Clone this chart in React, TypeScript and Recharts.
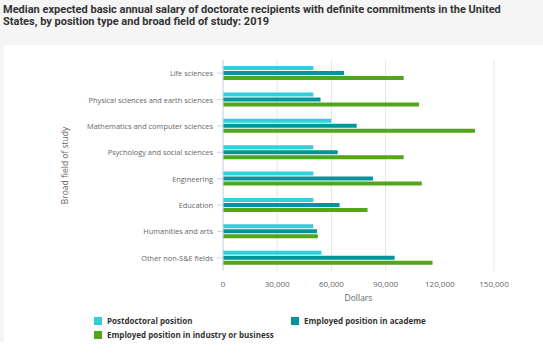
import React from 'react';
import { BarChart, Bar, XAxis, YAxis, CartesianGrid } from 'recharts';

const categories = [
  'Life sciences',
  'Physical sciences and earth sciences',
  'Mathematics and computer sciences',
  'Psychology and social sciences',
  'Engineering',
  'Education',
  'Humanities and arts',
  'Other non-S&E fields',
];
const postdoc = [50000, 50000, 60000, 50000, 50000, 50000, 50000, 54500];
const academe = [67000, 54000, 74000, 63500, 83000, 64500, 52000, 95000];
const industry = [100000, 108500, 139500, 100000, 110000, 80000, 52500, 116000];
const xTicks = [0, 30000, 60000, 90000, 120000, 150000];

const seriesNames = ['Postdoctoral position', 'Employed position in academe', 'Employed position in industry or business'];
const colors = ['#31cfdb', '#00969c', '#55a51c'];

const data = categories.map((c, i) => ({ name: c, postdoc: postdoc[i], academe: academe[i], industry: industry[i] }));

const fmt = (v: number) => v.toLocaleString('en-US');

const YTick = (props: any) => {
  const { x, y, payload } = props;
  return (
    <text x={x} y={y} dy={3} textAnchor="end" fontFamily='"Open Sans"' fontSize={7.4} fill="#666">
      {payload.value}
    </text>
  );
};

const LegendBlock = () => {
  const item = (i: number, left: number, top: number) => (
    <div key={i} style={{ position: 'absolute', left, top, display: 'flex', alignItems: 'center', whiteSpace: 'nowrap' }}>
      <div style={{ width: 8, height: 8, background: colors[i], marginRight: 5 }} />
      <span style={{ fontFamily: '"Open Sans"', fontWeight: 700, fontSize: 8, lineHeight: '10px', color: '#333' }}>{seriesNames[i]}</span>
    </div>
  );
  return (
    <div style={{ position: 'absolute', left: 0, top: 316, width: 543, height: 30 }}>
      {item(0, 94, 0)}
      {item(1, 291, 0)}
      {item(2, 94, 14)}
    </div>
  );
};

export default function App() {
  return (
    <div style={{ position: 'absolute', left: 0, top: 0, width: 543, height: 357, background: '#fff', overflow: 'hidden' }}>
      <div style={{ position: 'absolute', left: 0, top: 0, width: 543, height: 45, background: '#f5f5f5' }} />
      <div style={{ position: 'absolute', left: 0, top: 45, width: 4, height: 298, background: '#f5f5f5' }} />
      <div
        style={{
          position: 'absolute',
          left: 3,
          top: 4,
          width: 530,
          fontFamily: 'Roboto',
          fontWeight: 700,
          fontSize: 11,
          lineHeight: '12px',
          color: '#333',
        }}
      >
        Median expected basic annual salary of doctorate recipients with definite commitments in the United States, by position type and broad field of study: 2019
      </div>
      <div style={{ position: 'absolute', left: 0, top: 0 }}>
        <BarChart
          width={543}
          height={357}
          data={data}
          layout="vertical"
          margin={{ top: 60, right: 49, bottom: 46, left: 0 }}
          barSize={4}
          barGap={1}
        >
          <CartesianGrid horizontal={false} vertical={true} stroke="#e6e6e6" />
          <XAxis
            type="number"
            domain={[0, 150000]}
            ticks={xTicks}
            tickFormatter={fmt}
            axisLine={false}
            tickLine={false}
            height={40}
            tickMargin={4}
            tick={{ fontFamily: '"Open Sans"', fontSize: 8, fill: '#666' }}
            label={{
              value: 'Dollars',
              position: 'insideBottom',
              offset: 10,
              style: { fontFamily: '"Open Sans"', fontSize: 8.5, fill: '#666' },
            }}
          />
          <YAxis
            type="category"
            dataKey="name"
            width={223}
            axisLine={{ stroke: '#ccd6eb' }}
            tickLine={{ stroke: '#ccd6eb' }}
            tickSize={6}
            tickMargin={4}
            interval={0}
            tick={<YTick />}
            label={{
              value: 'Broad field of study',
              angle: -90,
              position: 'insideLeft',
              offset: 65,
              style: { textAnchor: 'middle', fontFamily: '"Open Sans"', fontSize: 8.5, fill: '#666' },
            }}
          />
          <Bar dataKey="postdoc" name={seriesNames[0]} fill={colors[0]} isAnimationActive={false} />
          <Bar dataKey="academe" name={seriesNames[1]} fill={colors[1]} isAnimationActive={false} />
          <Bar dataKey="industry" name={seriesNames[2]} fill={colors[2]} isAnimationActive={false} />
        </BarChart>
      </div>
      <LegendBlock />
    </div>
  );
}
